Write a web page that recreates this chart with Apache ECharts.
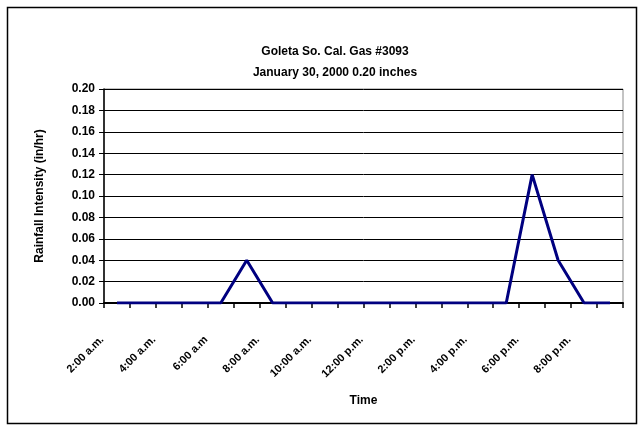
<!DOCTYPE html>
<html>
<head>
<meta charset="utf-8">
<script src="https://cdn.jsdelivr.net/npm/echarts@6/dist/echarts.min.js"></script>
<style>
html,body{margin:0;padding:0;background:#fff;}
#c{width:644px;height:429px;}
</style>
</head>
<body>
<div id="c"></div>
<script>
var titleLine1 = "Goleta So. Cal. Gas #3093";
var titleLine2 = "January 30, 2000 0.20 inches";
var categories = ["2:00 a.m.","","4:00 a.m.","","6:00 a.m","","8:00 a.m.","","10:00 a.m.","","12:00 p.m.","","2:00 p.m.","","4:00 p.m.","","6:00 p.m.","","8:00 p.m.",""];
var intensity = [0,0,0,0,0,0.04,0,0,0,0,0,0,0,0,0,0,0.12,0.04,0,0];
var yTicks = {min:0, max:0.2, interval:0.02};

var chart = echarts.init(document.getElementById('c'));
var font = 'Liberation Sans, Arial, sans-serif';
chart.setOption({
  animation:false,
  backgroundColor:'#fff',
  graphic:[{type:'rect',shape:{x:7.5,y:7.5,width:629,height:416},style:{fill:'none',stroke:'#000',lineWidth:1.5},silent:true}],
  title:{
    text:titleLine1+'\n'+titleLine2,
    left:330, top:36, textAlign:'center',
    textStyle:{fontFamily:font,fontSize:12,fontWeight:'bold',color:'#000',lineHeight:21}
  },
  grid:{left:104,right:21,top:89,bottom:126,show:true,borderColor:'#888',borderWidth:1},
  xAxis:{
    type:'category',data:categories,boundaryGap:true,
    name:'Time',nameLocation:'middle',nameGap:92,
    nameTextStyle:{fontFamily:font,fontSize:12,fontWeight:'bold',color:'#000'},
    axisLine:{lineStyle:{color:'#000',width:2}},
    axisTick:{show:true,interval:0,length:5,lineStyle:{color:'#000',width:1.5}},
    axisLabel:{interval:0,rotate:45,fontFamily:font,fontSize:11,fontWeight:'bold',color:'#000',margin:20,padding:[0,21,0,0]},
    splitLine:{show:false}
  },
  yAxis:{
    type:'value',min:yTicks.min,max:yTicks.max,interval:yTicks.interval,
    name:'Rainfall Intensity (in/hr)',nameLocation:'middle',nameGap:58,
    nameTextStyle:{fontFamily:font,fontSize:12,fontWeight:'bold',color:'#000'},
    axisLine:{show:true,lineStyle:{color:'#000',width:1.5}},
    axisTick:{show:true,length:5,lineStyle:{color:'#000'}},
    axisLabel:{fontFamily:font,fontSize:12,fontWeight:'bold',color:'#000',margin:9,
      formatter:function(v){return v.toFixed(2);}},
    splitLine:{show:true,lineStyle:{color:'#000',width:1}}
  },
  series:[{
    type:'line',data:intensity,symbol:'none',
    lineStyle:{color:'#000080',width:3},
    itemStyle:{color:'#000080'}
  }]
});
</script>
</body>
</html>
